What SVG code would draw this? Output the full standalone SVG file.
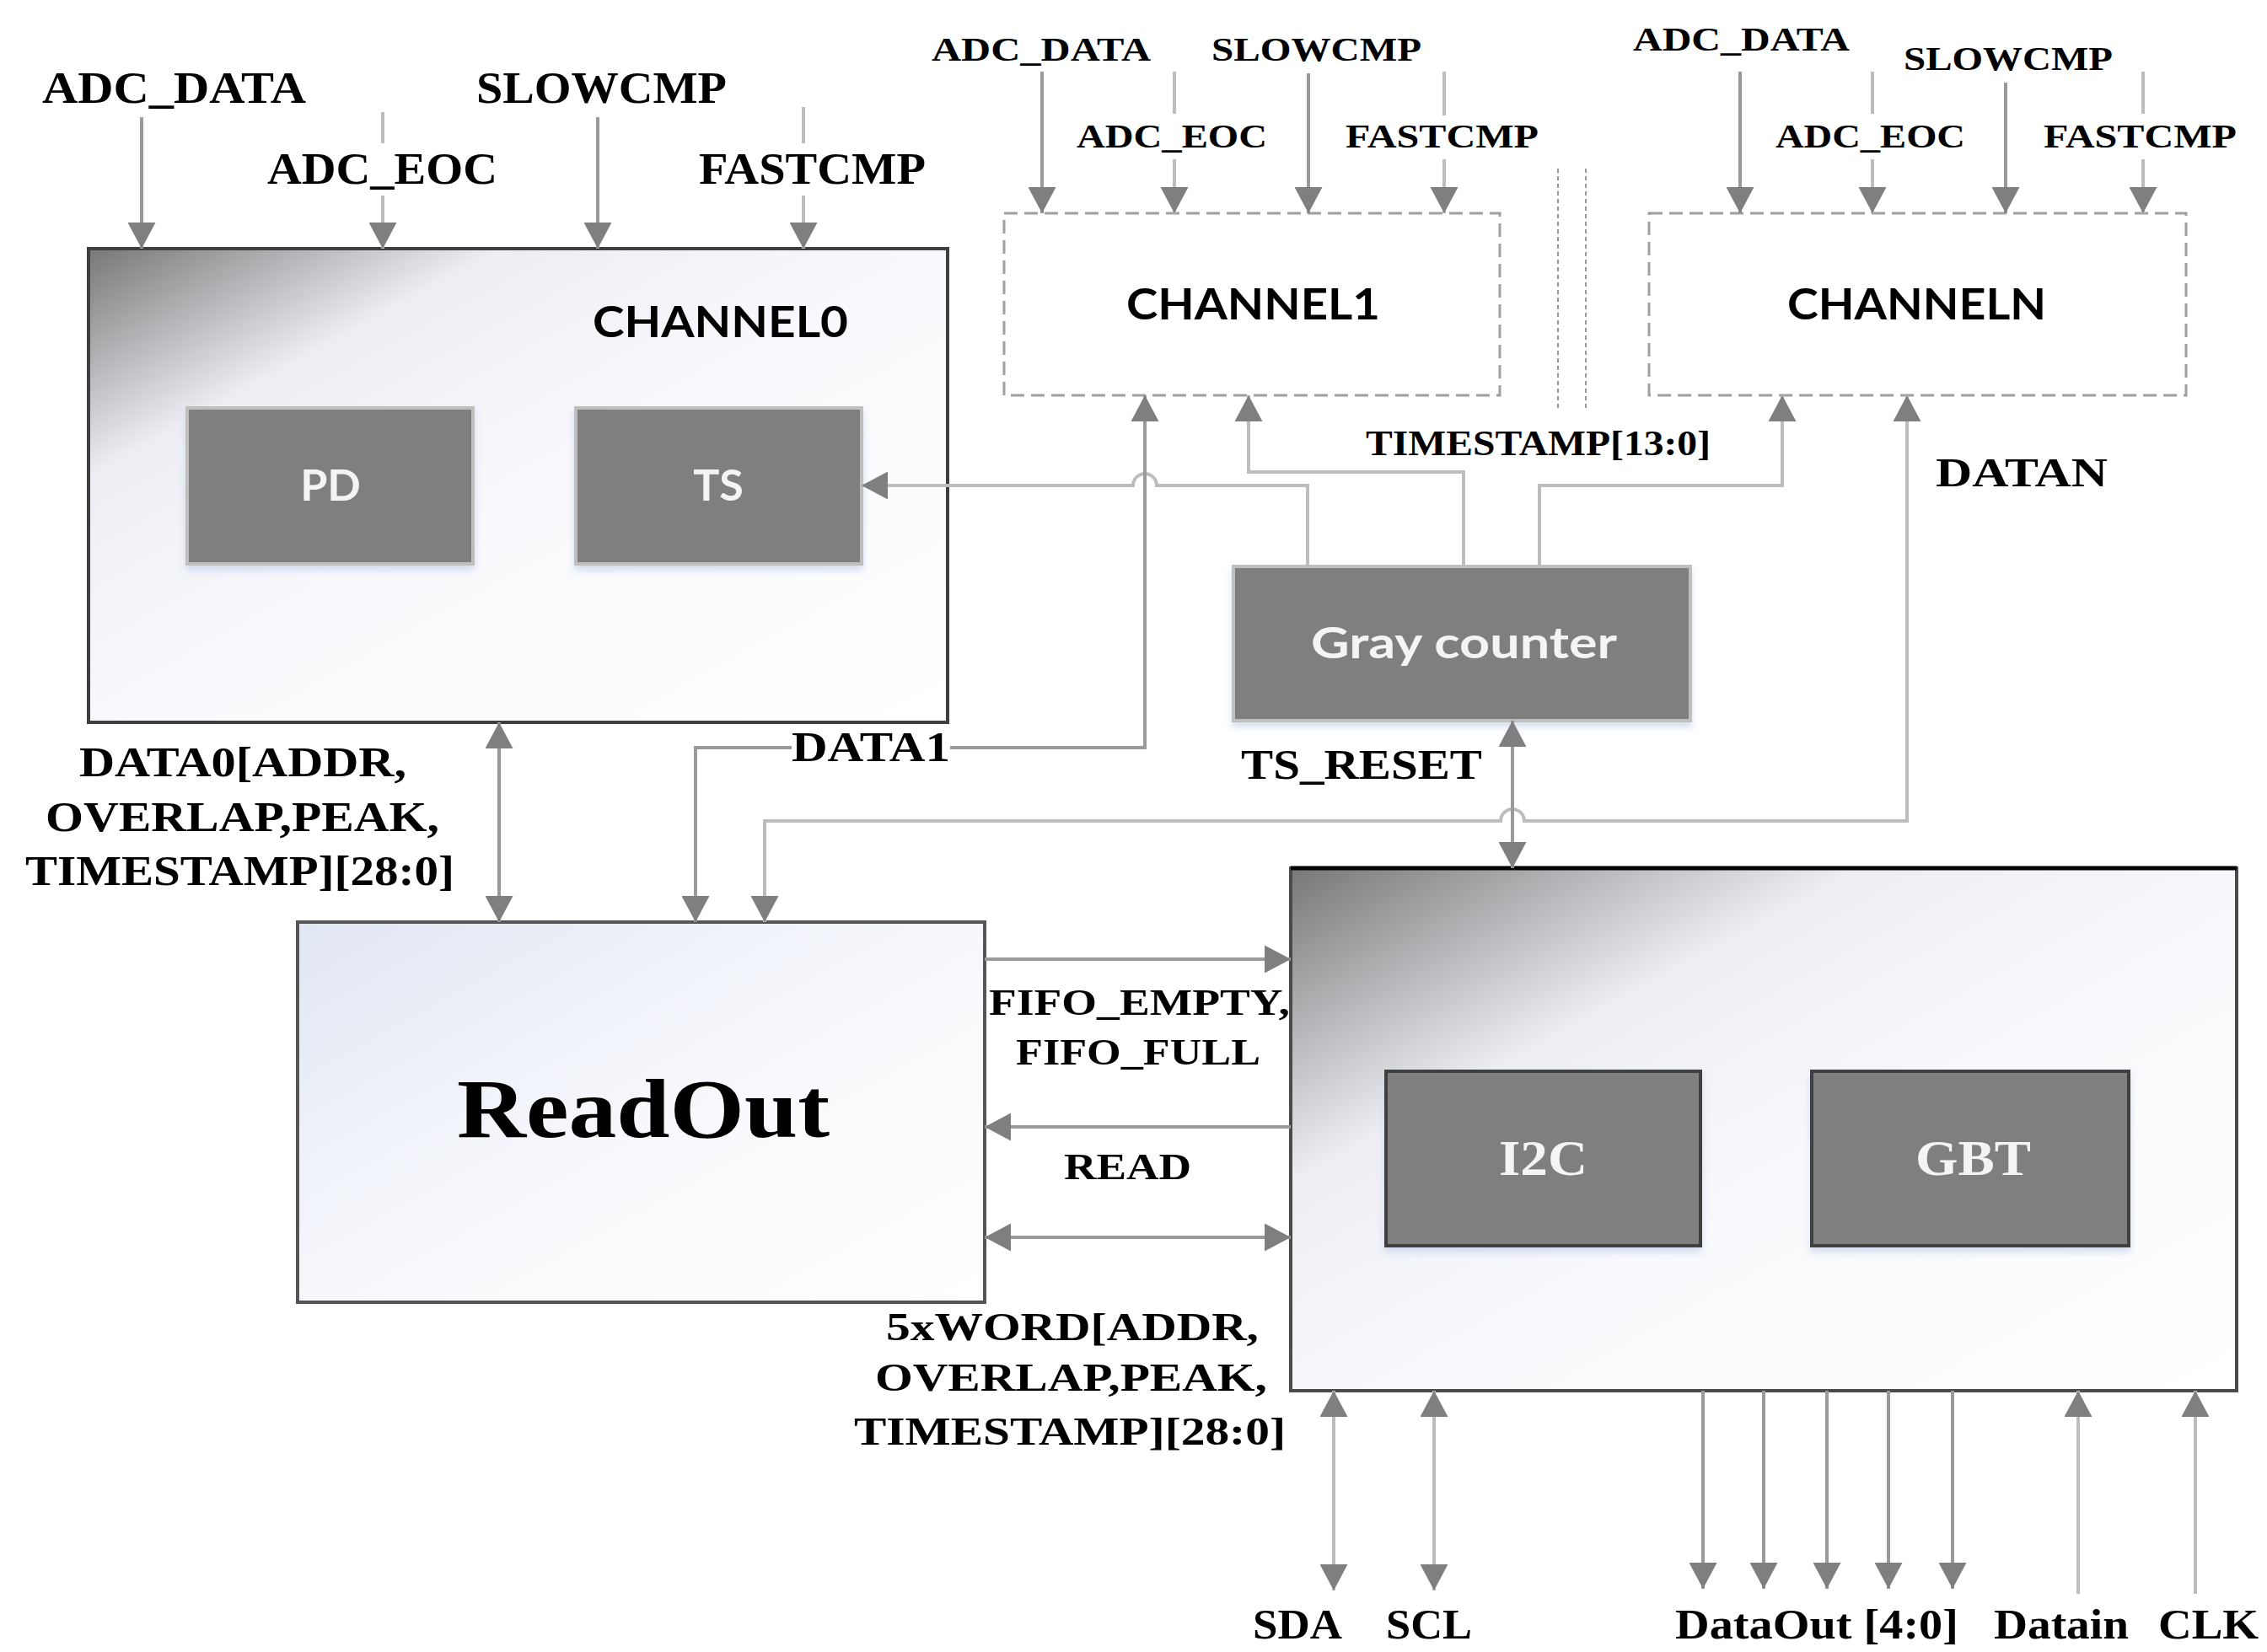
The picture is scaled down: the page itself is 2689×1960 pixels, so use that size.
<svg xmlns="http://www.w3.org/2000/svg" width="2689" height="1960" viewBox="0 0 2689 1960">
<defs>
<style>
.lbl{font-family:"Liberation Serif","Times New Roman",serif;font-weight:bold;fill:#000}
.sans{font-family:Lato,"Open Sans","Liberation Sans",sans-serif;font-weight:bold}
.wire{fill:none;stroke:#9a9a9a;stroke-width:4}
.wl{fill:none;stroke:#bdbdbd;stroke-width:4}
.dash{fill:#fff;stroke:#a0a0a0;stroke-width:3;stroke-dasharray:16 8}
.inner{fill:#7f7f7f;stroke:#bfbfbf;stroke-width:4}
.inner2{fill:#7f7f7f;stroke:#3f3f3f;stroke-width:4}
</style>
<marker id="ah" viewBox="0 0 31 33" refX="31" refY="16.5" markerWidth="31" markerHeight="33" markerUnits="userSpaceOnUse" orient="auto-start-reverse">
<path d="M0,0 L31,16.5 L0,33 Z" fill="#7f7f7f"/>
</marker>
<linearGradient id="gCorner" x1="0" y1="0" x2="1" y2="1">
<stop offset="0" stop-color="#777"/>
<stop offset="0.24" stop-color="#eceef3"/>
<stop offset="0.5" stop-color="#f8f9fc"/>
<stop offset="1" stop-color="#fff"/>
</linearGradient>
<linearGradient id="gCorner2" x1="0" y1="0" x2="1" y2="1">
<stop offset="0" stop-color="#777"/>
<stop offset="0.3" stop-color="#eceef3"/>
<stop offset="0.55" stop-color="#f8f9fc"/>
<stop offset="1" stop-color="#fff"/>
</linearGradient>
<linearGradient id="gBlue" x1="0" y1="0" x2="1" y2="1">
<stop offset="0" stop-color="#e1e7f4"/>
<stop offset="0.55" stop-color="#f8f9fc"/>
<stop offset="1" stop-color="#fff"/>
</linearGradient>
<filter id="sh" x="-5%" y="-5%" width="110%" height="120%">
<feDropShadow dx="0" dy="6" stdDeviation="4" flood-color="#c4d2ea" flood-opacity="0.7"/>
</filter>
</defs>
<rect width="2689" height="1960" fill="#fff"/>

<!-- nodes -->
<g id="channel0">
<rect x="105" y="295" width="1019" height="562" fill="url(#gCorner)" stroke="#3f3f3f" stroke-width="4"/>
<text class="sans" x="703" y="400" font-size="52" textLength="303" lengthAdjust="spacingAndGlyphs" fill="#000">CHANNEL0</text>
</g>
<g id="pd">
<rect class="inner" x="222" y="484" width="339" height="185" filter="url(#sh)"/>
<text class="sans" x="392" y="594" font-size="52" text-anchor="middle" fill="#f4f4f4">PD</text>
</g>
<g id="ts">
<rect class="inner" x="683" y="484" width="339" height="185" filter="url(#sh)"/>
<text class="sans" x="852" y="594" font-size="52" text-anchor="middle" fill="#f4f4f4">TS</text>
</g>
<g id="channel1">
<rect class="dash" x="1191" y="253" width="588" height="216"/>
<text class="sans" x="1336" y="379" font-size="52" textLength="301" lengthAdjust="spacingAndGlyphs" fill="#000">CHANNEL1</text>
</g>
<g id="channelN">
<rect class="dash" x="1956" y="253" width="637" height="216"/>
<text class="sans" x="2120" y="379" font-size="52" textLength="307" lengthAdjust="spacingAndGlyphs" fill="#000">CHANNELN</text>
</g>
<g id="graycounter">
<rect class="inner" x="1463" y="672" width="542" height="183" filter="url(#sh)"/>
<text class="sans" x="1555" y="781" font-size="52" textLength="363" lengthAdjust="spacingAndGlyphs" fill="#f4f4f4">Gray counter</text>
</g>
<g id="readout">
<rect x="353" y="1094" width="815" height="451" fill="url(#gBlue)" stroke="#555" stroke-width="4"/>
<text class="lbl" x="542" y="1349" font-size="100" textLength="442" lengthAdjust="spacingAndGlyphs">ReadOut</text>
</g>
<g id="iobox">
<rect x="1531" y="1030" width="1122" height="620" fill="url(#gCorner2)" stroke="#4a4a4a" stroke-width="4"/>
<line x1="1531" y1="1030" x2="2653" y2="1030" stroke="#000" stroke-width="5"/>
</g>
<g id="i2c">
<rect class="inner2" x="1644" y="1271" width="373" height="207" filter="url(#sh)"/>
<text class="lbl" x="1778" y="1394" font-size="60" textLength="105" lengthAdjust="spacingAndGlyphs" fill="#f4f4f4" style="fill:#f4f4f4">I2C</text>
</g>
<g id="gbt">
<rect class="inner2" x="2149" y="1271" width="376" height="207" filter="url(#sh)"/>
<text class="lbl" x="2272" y="1394" font-size="60" textLength="137" lengthAdjust="spacingAndGlyphs" style="fill:#f4f4f4">GBT</text>
</g>

<!-- connectors -->
<g id="connectors">
<!-- channel0 inputs -->
<path class="wire" d="M168,139 V295" marker-end="url(#ah)"/>
<path class="wl" d="M454,133 V170 M454,232 V295" marker-end="url(#ah)"/>
<path class="wire" d="M709,139 V295" marker-end="url(#ah)"/>
<path class="wl" d="M953,127 V170 M953,232 V295" marker-end="url(#ah)"/>
<!-- channel1 inputs -->
<path class="wire" d="M1236,85 V253" marker-end="url(#ah)"/>
<path class="wl" d="M1393,85 V135 M1393,189 V253" marker-end="url(#ah)"/>
<path class="wire" d="M1552,87 V253" marker-end="url(#ah)"/>
<path class="wl" d="M1713,85 V137 M1713,189 V253" marker-end="url(#ah)"/>
<!-- channelN inputs -->
<path class="wire" d="M2064,85 V253" marker-end="url(#ah)"/>
<path class="wl" d="M2221,85 V135 M2221,189 V253" marker-end="url(#ah)"/>
<path class="wire" d="M2379,98 V253" marker-end="url(#ah)"/>
<path class="wl" d="M2542,85 V135 M2542,189 V253" marker-end="url(#ah)"/>
<!-- dotted separators -->
<line x1="1848" y1="200" x2="1848" y2="485" stroke="#999" stroke-width="2" stroke-dasharray="5 4"/>
<line x1="1881" y1="200" x2="1881" y2="485" stroke="#999" stroke-width="2" stroke-dasharray="5 4"/>
<!-- timestamp to TS -->
<path class="wl" d="M1551,672 V576 H1372 A14,14 0 0 0 1344,576 H1022" marker-end="url(#ah)"/>
<!-- timestamp to channel1 -->
<path class="wl" d="M1736,672 V560 H1481 V469" marker-end="url(#ah)"/>
<!-- timestamp to channelN -->
<path class="wl" d="M1826,672 V576 H2114 V469" marker-end="url(#ah)"/>
<!-- DATA1 -->
<path class="wire" d="M825,1094 V887 H939 M1127,887 H1358 V469" marker-start="url(#ah)" marker-end="url(#ah)"/>
<!-- DATAN -->
<path class="wl" d="M907,1094 V974 H1780 A14,14 0 0 1 1808,974 H2262 V469" marker-start="url(#ah)" marker-end="url(#ah)"/>
<!-- TS_RESET -->
<path class="wire" d="M1794,855 V1030" marker-start="url(#ah)" marker-end="url(#ah)"/>
<!-- DATA0 -->
<path class="wire" d="M592,857 V1094" marker-start="url(#ah)" marker-end="url(#ah)"/>
<!-- FIFO -->
<path class="wire" d="M1168,1138 H1531" marker-end="url(#ah)"/>
<!-- READ -->
<path class="wire" d="M1531,1337 H1168" marker-end="url(#ah)"/>
<!-- 5xWORD -->
<path class="wire" d="M1168,1468 H1531" marker-start="url(#ah)" marker-end="url(#ah)"/>
<!-- bottom -->
<path class="wl" d="M1582,1650 V1887" marker-start="url(#ah)" marker-end="url(#ah)"/>
<path class="wl" d="M1701,1650 V1887" marker-start="url(#ah)" marker-end="url(#ah)"/>
<path class="wire" d="M2020,1650 V1885" marker-end="url(#ah)"/>
<path class="wire" d="M2092,1650 V1885" marker-end="url(#ah)"/>
<path class="wire" d="M2167,1650 V1885" marker-end="url(#ah)"/>
<path class="wire" d="M2240,1650 V1885" marker-end="url(#ah)"/>
<path class="wire" d="M2316,1650 V1885" marker-end="url(#ah)"/>
<path class="wl" d="M2465,1891 V1650" marker-end="url(#ah)"/>
<path class="wl" d="M2604,1891 V1650" marker-end="url(#ah)"/>
</g>

<!-- labels -->
<g id="labels">
<text class="lbl" x="50" y="122" font-size="53" textLength="313" lengthAdjust="spacingAndGlyphs">ADC_DATA</text>
<text class="lbl" x="317" y="218" font-size="53" textLength="273" lengthAdjust="spacingAndGlyphs">ADC_EOC</text>
<text class="lbl" x="565" y="122" font-size="53" textLength="297" lengthAdjust="spacingAndGlyphs">SLOWCMP</text>
<text class="lbl" x="829" y="218" font-size="53" textLength="269" lengthAdjust="spacingAndGlyphs">FASTCMP</text>

<text class="lbl" x="1105" y="72" font-size="41" textLength="260" lengthAdjust="spacingAndGlyphs">ADC_DATA</text>
<text class="lbl" x="1277" y="175" font-size="41" textLength="226" lengthAdjust="spacingAndGlyphs">ADC_EOC</text>
<text class="lbl" x="1437" y="72" font-size="41" textLength="249" lengthAdjust="spacingAndGlyphs">SLOWCMP</text>
<text class="lbl" x="1596" y="175" font-size="41" textLength="229" lengthAdjust="spacingAndGlyphs">FASTCMP</text>

<text class="lbl" x="1937" y="60" font-size="41" textLength="257" lengthAdjust="spacingAndGlyphs">ADC_DATA</text>
<text class="lbl" x="2106" y="175" font-size="41" textLength="225" lengthAdjust="spacingAndGlyphs">ADC_EOC</text>
<text class="lbl" x="2258" y="83" font-size="41" textLength="248" lengthAdjust="spacingAndGlyphs">SLOWCMP</text>
<text class="lbl" x="2424" y="175" font-size="41" textLength="229" lengthAdjust="spacingAndGlyphs">FASTCMP</text>

<text class="lbl" x="1620" y="540" font-size="43" textLength="409" lengthAdjust="spacingAndGlyphs">TIMESTAMP[13:0]</text>
<text class="lbl" x="2296" y="577" font-size="48" textLength="204" lengthAdjust="spacingAndGlyphs">DATAN</text>
<text class="lbl" x="1472" y="924" font-size="50" textLength="286" lengthAdjust="spacingAndGlyphs">TS_RESET</text>
<text class="lbl" x="939" y="903" font-size="50" textLength="188" lengthAdjust="spacingAndGlyphs">DATA1</text>

<text class="lbl" x="94" y="921" font-size="50" textLength="388" lengthAdjust="spacingAndGlyphs">DATA0[ADDR,</text>
<text class="lbl" x="54" y="986" font-size="50" textLength="467" lengthAdjust="spacingAndGlyphs">OVERLAP,PEAK,</text>
<text class="lbl" x="30" y="1050" font-size="50" textLength="509" lengthAdjust="spacingAndGlyphs">TIMESTAMP][28:0]</text>

<text class="lbl" x="1173" y="1204" font-size="45" textLength="357" lengthAdjust="spacingAndGlyphs">FIFO_EMPTY,</text>
<text class="lbl" x="1205" y="1263" font-size="45" textLength="290" lengthAdjust="spacingAndGlyphs">FIFO_FULL</text>
<text class="lbl" x="1262" y="1399" font-size="45" textLength="151" lengthAdjust="spacingAndGlyphs">READ</text>

<text class="lbl" x="1051" y="1590" font-size="47" textLength="442" lengthAdjust="spacingAndGlyphs">5xWORD[ADDR,</text>
<text class="lbl" x="1038" y="1650" font-size="47" textLength="465" lengthAdjust="spacingAndGlyphs">OVERLAP,PEAK,</text>
<text class="lbl" x="1013" y="1714" font-size="47" textLength="512" lengthAdjust="spacingAndGlyphs">TIMESTAMP][28:0]</text>

<text class="lbl" x="1486" y="1944" font-size="50" textLength="106" lengthAdjust="spacingAndGlyphs">SDA</text>
<text class="lbl" x="1644" y="1944" font-size="50" textLength="102" lengthAdjust="spacingAndGlyphs">SCL</text>
<text class="lbl" x="1987" y="1944" font-size="50" textLength="336" lengthAdjust="spacingAndGlyphs">DataOut [4:0]</text>
<text class="lbl" x="2365" y="1944" font-size="50" textLength="160" lengthAdjust="spacingAndGlyphs">Datain</text>
<text class="lbl" x="2560" y="1944" font-size="50" textLength="119" lengthAdjust="spacingAndGlyphs">CLK</text>
</g>
</svg>
